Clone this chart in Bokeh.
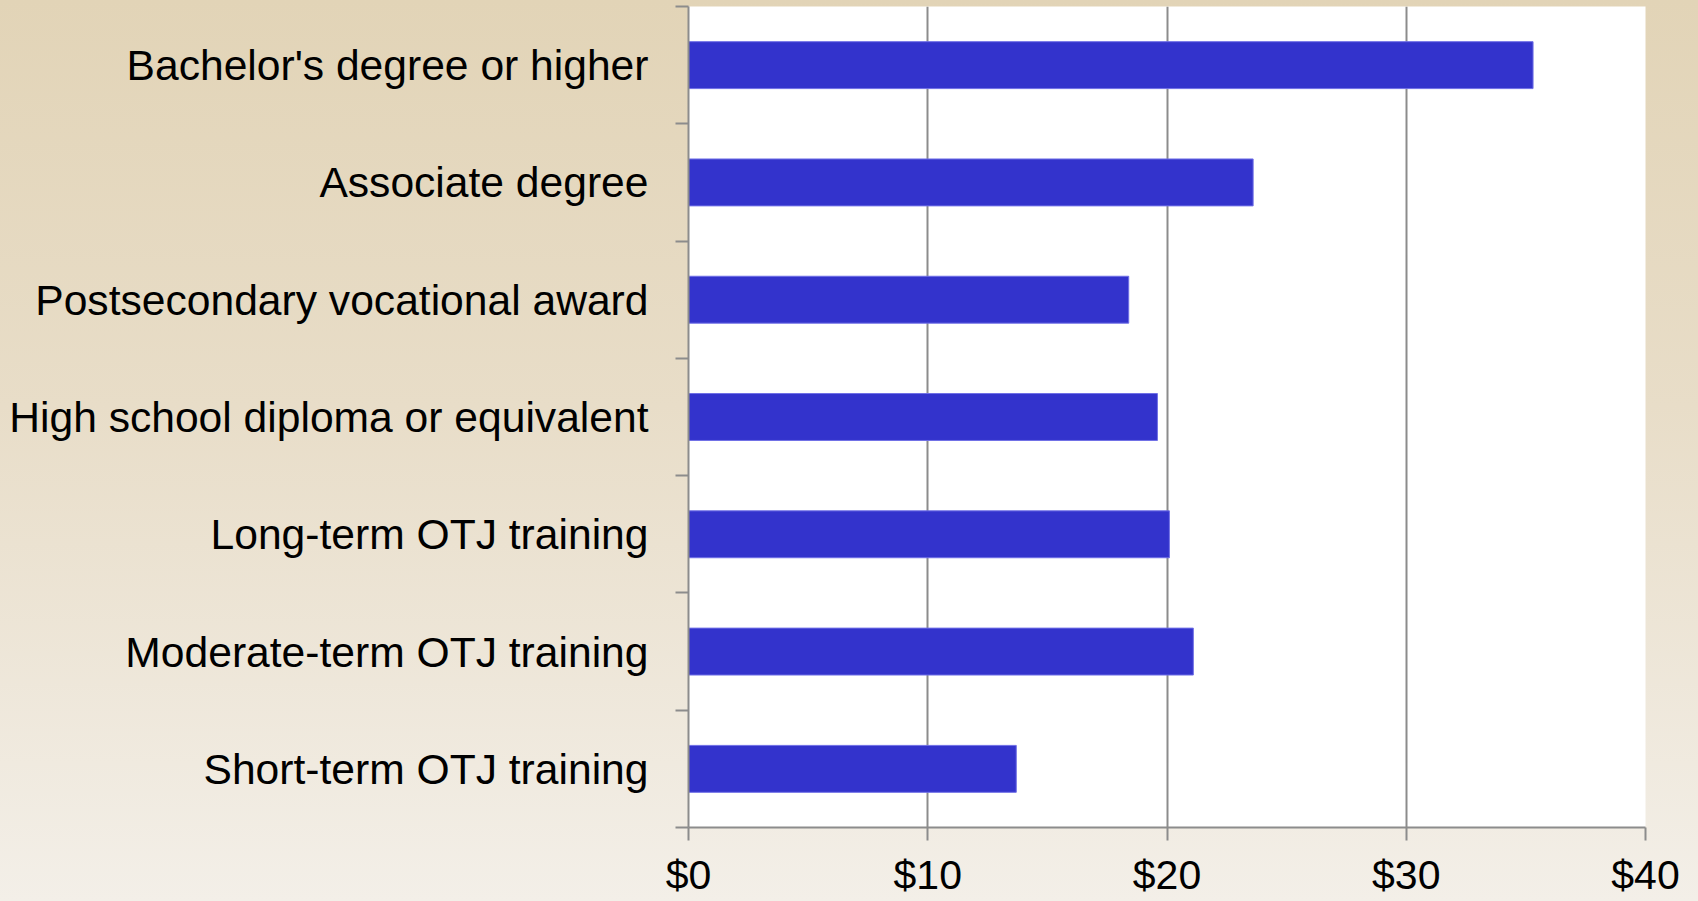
from bokeh.plotting import figure
from bokeh.models import Range1d, FixedTicker, GlobalInlineStyleSheet, ColumnDataSource
from bokeh.embed import file_html
from bokeh.resources import INLINE

# ---- data ----
categories = [
    "Short-term OTJ training",
    "Moderate-term OTJ training",
    "Long-term OTJ training",
    "High school diploma or equivalent",
    "Postsecondary vocational award",
    "Associate degree",
    "Bachelor's degree or higher",
]
wages = [13.7, 21.1, 20.1, 19.6, 18.4, 23.6, 35.3]
x_ticks = [0, 10, 20, 30, 40]
x_tick_labels = ["$0", "$10", "$20", "$30", "$40"]

centers = [i + 0.5 for i in range(len(categories))]
boundaries = list(range(len(categories) + 1))

src = ColumnDataSource(dict(y=centers, right=wages, cat=categories))

FONT = "Liberation Sans"
GRID = "#8c8c8c"

p = figure(
    width=1698, height=900,
    output_backend="svg", toolbar_location=None,
    x_range=Range1d(0, 40), y_range=Range1d(0, len(categories)),
    min_border_left=688, min_border_right=53,
    min_border_top=6, min_border_bottom=71,
)
p.stylesheets = [GlobalInlineStyleSheet(css=(
    "html { min-height: 100%; background: linear-gradient(180deg, #e2d4b7 0%, #e8ddc8 45%, #f3efe8 100%) no-repeat fixed; }"
    "body { background: transparent; }"
))]
p.border_fill_color = None
p.background_fill_color = "white"
p.outline_line_color = None

p.hbar(y="y", right="right", left=0, height=0.4, source=src,
       fill_color="#3333cc", line_color="#6f6fe6", line_width=1)

# x axis
xa = p.xaxis[0]
xa.ticker = FixedTicker(ticks=x_ticks)
xa.major_label_overrides = {t: l for t, l in zip(x_ticks, x_tick_labels)}
xa.axis_line_color = GRID
xa.axis_line_width = 2
xa.major_tick_line_color = GRID
xa.major_tick_line_width = 2
xa.major_tick_out = 13
xa.major_tick_in = 0
xa.minor_tick_line_color = None
xa.major_label_text_font = FONT
xa.major_label_text_font_size = "41px"
xa.major_label_text_color = "black"
xa.major_label_standoff = 11

# y axis
ya = p.yaxis[0]
ya.ticker = FixedTicker(ticks=centers, minor_ticks=boundaries)
ya.major_label_overrides = {c: l for c, l in zip(centers, categories)}
ya.axis_line_color = GRID
ya.axis_line_width = 2
ya.major_tick_line_color = None
ya.major_tick_out = 0
ya.major_tick_in = 0
ya.minor_tick_line_color = GRID
ya.minor_tick_line_width = 2
ya.minor_tick_out = 13
ya.minor_tick_in = 0
ya.major_label_text_font = FONT
ya.major_label_text_font_size = "42.6px"
ya.major_label_text_color = "black"
ya.major_label_standoff = 27

p.xgrid.ticker = FixedTicker(ticks=x_ticks[1:])
p.xgrid.grid_line_color = GRID
p.xgrid.grid_line_width = 2
p.ygrid.grid_line_color = None

open("out.html", "w").write(file_html(p, INLINE))
